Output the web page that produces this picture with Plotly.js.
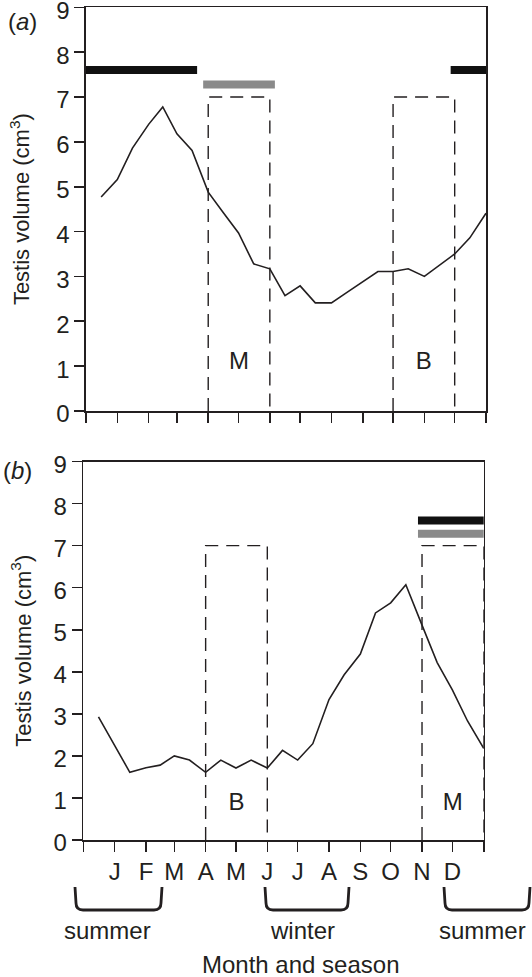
<!DOCTYPE html>
<html>
<head>
<meta charset="utf-8">
<script src="https://cdn.plot.ly/plotly-3.0.1.min.js"></script>
<style>html,body{margin:0;padding:0;background:#fff}</style>
</head>
<body>
<div id="chart" style="width:532px;height:977px"></div>
<script>
// sampling dates, every half month from mid December to the next January
var sampleDates = ['2000-12-16','2001-01-01','2001-01-16','2001-02-01','2001-02-15','2001-03-01',
  '2001-03-16','2001-04-01','2001-04-16','2001-05-01','2001-05-16','2001-06-01','2001-06-16',
  '2001-07-01','2001-07-16','2001-08-01','2001-08-16','2001-09-01','2001-09-16','2001-10-01',
  '2001-10-16','2001-11-01','2001-11-16','2001-12-01','2001-12-16','2002-01-01'];

// testis volume (cm3), panel a and panel b
var volumeA = [4.77,5.16,5.86,6.39,6.78,6.18,5.81,4.88,4.42,3.97,3.28,3.17,2.57,
  2.79,2.41,2.41,2.64,2.88,3.11,3.11,3.17,3.00,3.24,3.50,3.86,4.41];
var volumeB = [2.93,2.26,1.61,1.72,1.78,2.00,1.90,1.61,1.90,1.71,1.90,1.71,2.13,
  1.90,2.29,3.34,3.93,4.42,5.40,5.64,6.07,5.11,4.22,3.57,2.83,2.18];

// month ticks
var tickDates = ['2000-12-01','2001-01-01','2001-02-01','2001-03-01','2001-04-01','2001-05-01',
  '2001-06-01','2001-07-01','2001-08-01','2001-09-01','2001-10-01','2001-11-01','2001-12-01','2002-01-01'];
var tickLabels = ['','J','F','M','A','M','J','J','A','S','O','N','D',''];

// dashed periods (M and B)
var boxStartA = ['2001-04-01','2001-10-01'];
var boxEndA = ['2001-06-01','2001-12-01'];
var boxLabelA = ['M','B'];
var boxStartB = ['2001-04-01','2001-11-01'];
var boxEndB = ['2001-06-01','2002-01-01'];
var boxLabelB = ['B','M'];
var boxTop = 7;

// black and grey period bars
var darkStartA = ['2000-11-29','2001-11-27'];
var darkEndA = ['2001-03-21','2002-01-05'];
var greyStartA = ['2001-03-27'];
var greyEndA = ['2001-06-06'];
var darkStartB = ['2001-10-28'];
var darkEndB = ['2002-01-07'];
var greyStartB = ['2001-10-28'];
var greyEndB = ['2002-01-07'];
var darkLevel = 7.6;
var greyLevel = 7.28;

var seasons = ['summer','winter','summer'];

var ink = '#231f20';
var font = {family: 'Liberation Sans, Arial, sans-serif', size: 24, color: ink};
var titleFont = {family: 'Liberation Sans, Arial, sans-serif', size: 22, color: ink};

var traces = [];

function addBoxes(starts, ends, labels, xa, ya, labelY) {
  for (var i = 0; i < starts.length; i++) {
    traces.push({
      x: [starts[i], starts[i], ends[i], ends[i]],
      y: [0, boxTop, boxTop, 0],
      xaxis: xa, yaxis: ya,
      mode: 'lines',
      line: {color: ink, width: 1.4, dash: '13px,8px'}
    });
    var mid = new Date((Date.parse(starts[i]) + Date.parse(ends[i])) / 2);
    traces.push({
      x: [mid], y: [labelY],
      xaxis: xa, yaxis: ya,
      mode: 'text', text: [labels[i]],
      textfont: font, textposition: 'middle center'
    });
  }
}

function addBars(starts, ends, level, color, xa, ya) {
  for (var i = 0; i < starts.length; i++) {
    traces.push({
      x: [starts[i], ends[i]], y: [level, level],
      xaxis: xa, yaxis: ya,
      mode: 'lines', cliponaxis: false,
      line: {color: color, width: 8}
    });
  }
}

addBoxes(boxStartA, boxEndA, boxLabelA, 'x', 'y', 1.06);
addBoxes(boxStartB, boxEndB, boxLabelB, 'x2', 'y2', 0.86);
addBars(darkStartA, darkEndA, darkLevel, '#111', 'x', 'y');
addBars(greyStartA, greyEndA, greyLevel, '#8a8a8a', 'x', 'y');
addBars(darkStartB, darkEndB, darkLevel, '#111', 'x2', 'y2');
addBars(greyStartB, greyEndB, greyLevel, '#8a8a8a', 'x2', 'y2');

traces.push({x: sampleDates, y: volumeA, xaxis: 'x', yaxis: 'y', mode: 'lines',
  line: {color: ink, width: 1.6}});
traces.push({x: sampleDates, y: volumeB, xaxis: 'x2', yaxis: 'y2', mode: 'lines',
  line: {color: ink, width: 1.6}});

var W = 532, H = 977;

function xAxis(domain, anchor, labels) {
  return {
    domain: domain, anchor: anchor, type: 'date',
    range: ['2000-12-01', '2002-01-01'],
    tickmode: 'array', tickvals: tickDates, ticktext: tickLabels,
    showticklabels: labels, tickfont: font,
    ticks: 'outside', ticklen: 10, tickwidth: 1.6, tickcolor: ink,
    showline: true, linecolor: ink, linewidth: 1.6, mirror: true,
    showgrid: false, zeroline: false
  };
}

function yAxis(domain, anchor, standoff) {
  return {
    domain: domain, anchor: anchor,
    range: [0, 9], dtick: 1, tickfont: font,
    ticklabeloverflow: 'allow', ticklabelshift: 3,
    ticks: 'outside', ticklen: 10, tickwidth: 1.6, tickcolor: ink,
    showline: true, linecolor: ink, linewidth: 1.6, mirror: true,
    showgrid: false, zeroline: false,
    title: {text: 'Testis volume (cm<sup>3</sup>)', font: titleFont, standoff: standoff}
  };
}

// season braces under panel b, in page pixels
var braces = [[75, 162], [265, 349], [444, 530]];
var braceTop = 887, braceBottom = 910, r = 7;
function px(x) { return (x / W).toFixed(5); }
function py(y) { return (1 - y / H).toFixed(5); }
var shapes = braces.map(function (b) {
  var a = b[0], z = b[1];
  var d = 'M' + px(a) + ',' + py(braceTop) +
    ' L' + px(a + 1) + ',' + py(braceBottom - r) +
    ' Q' + px(a + 1) + ',' + py(braceBottom) + ' ' + px(a + 1 + r) + ',' + py(braceBottom) +
    ' L' + px(z - 1 - r) + ',' + py(braceBottom) +
    ' Q' + px(z - 1) + ',' + py(braceBottom) + ' ' + px(z - 1) + ',' + py(braceBottom - r) +
    ' L' + px(z) + ',' + py(braceTop);
  return {type: 'path', xref: 'paper', yref: 'paper', path: d,
    line: {color: ink, width: 2.8}};
});

var seasonX = [107, 302, 482];
var annotations = seasons.map(function (s, i) {
  return {text: s, xref: 'paper', yref: 'paper', x: seasonX[i] / W, y: 1 - 930 / H,
    xanchor: 'center', yanchor: 'middle', showarrow: false, font: font};
});
annotations.push({text: '(<i>a</i>)', xref: 'paper', yref: 'paper', x: 22 / W, y: 1 - 22 / H,
  xanchor: 'center', yanchor: 'middle', showarrow: false, font: font});
annotations.push({text: '(<i>b</i>)', xref: 'paper', yref: 'paper', x: 17 / W, y: 1 - 470 / H,
  xanchor: 'center', yanchor: 'middle', showarrow: false, font: font});
annotations.push({text: 'Month and season', xref: 'paper', yref: 'paper', x: 300 / W, y: 1 - 964 / H,
  xanchor: 'center', yanchor: 'middle', showarrow: false, font: font});

var layout = {
  width: W, height: H,
  margin: {l: 0, r: 0, t: 0, b: 0},
  paper_bgcolor: '#fff', plot_bgcolor: '#fff',
  showlegend: false, hovermode: false,
  font: font,
  xaxis: xAxis([86 / W, 486 / W], 'y', false),
  yaxis: yAxis([1 - 411 / H, 1 - 7.3 / H], 'x', 20),
  xaxis2: xAxis([83.3 / W, 483.7 / W], 'y2', true),
  yaxis2: yAxis([1 - 840 / H, 1 - 461.5 / H], 'x2', 16),
  shapes: shapes,
  annotations: annotations
};

Plotly.newPlot('chart', traces, layout, {staticPlot: true});
</script>
</body>
</html>
